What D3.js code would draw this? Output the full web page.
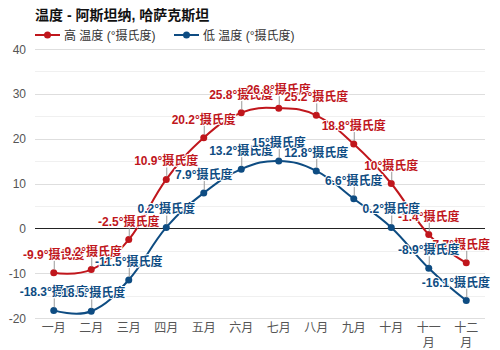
<!DOCTYPE html>
<html><head><meta charset="utf-8">
<script src="https://cdn.jsdelivr.net/npm/d3@7"></script>
<style>
body{margin:0;background:#fff;}
svg{font-family:"Liberation Sans",Arial,"Noto Sans CJK SC",sans-serif;}
</style></head>
<body><svg id="c" width="500" height="350"></svg>
<script>
const title = "温度 - 阿斯坦纳, 哈萨克斯坦";
const months = ["一月","二月","三月","四月","五月","六月","七月","八月","九月","十月","十一月","十二月"];
const highTemps = [-9.9,-9.2,-2.5,10.9,20.2,25.8,26.8,25.2,18.8,10,-1.4,-7.7];
const lowTemps = [-18.3,-18.5,-11.5,0.2,7.9,13.2,15,12.8,6.6,0.2,-8.9,-16.1];
const seriesNames = ["高 温度 (°摄氏度)","低 温度 (°摄氏度)"];
const yTicks = [-20,-10,0,10,20,30,40];
const unit = "°摄氏度";

const colors = ["#c0161c","#0e4c82"];
const svg = d3.select("#c");
const m = {left:35,right:485,top:49,bottom:318};

const x = d3.scaleBand().domain(months).range([m.left,m.right]);
const y = d3.scaleLinear().domain([-20,40]).range([m.bottom,m.top]);
const cx = d => x(d) + x.bandwidth()/2;

// title
svg.append("text").attr("x",35).attr("y",20).attr("font-size",14).attr("font-weight","bold")
  .attr("fill","#111").text(title);

// legend
const lg = [{x:35},{x:174}];
seriesNames.forEach((n,i)=>{
  const g = svg.append("g");
  g.append("line").attr("x1",lg[i].x).attr("x2",lg[i].x+25).attr("y1",35).attr("y2",35)
    .attr("stroke",colors[i]).attr("stroke-width",2);
  g.append("circle").attr("cx",lg[i].x+12.5).attr("cy",35).attr("r",3.5).attr("fill",colors[i]);
  g.append("text").attr("x",lg[i].x+29).attr("y",39.5).attr("font-size",12).attr("fill","#333").text(n);
});

// grid minor
const minor = d3.range(-15,40,10);
svg.append("g").selectAll("line").data(minor).join("line")
  .attr("x1",m.left).attr("x2",m.right).attr("y1",d=>Math.round(y(d))+0.5).attr("y2",d=>Math.round(y(d))+0.5)
  .attr("stroke","#f0f0f0");
svg.append("g").selectAll("line").data(yTicks).join("line")
  .attr("x1",m.left).attr("x2",m.right).attr("y1",d=>Math.round(y(d))+0.5).attr("y2",d=>Math.round(y(d))+0.5)
  .attr("stroke",d=>d===0?"#222":"#dedede");

// y labels
svg.append("g").selectAll("text").data(yTicks).join("text")
  .attr("x",26).attr("y",d=>y(d)+4.5).attr("text-anchor","end").attr("font-size",12).attr("fill","#555")
  .text(d=>d);

// x labels
const xl = svg.append("g").selectAll("text").data(months).join("text")
  .attr("x",d=>cx(d)).attr("y",332).attr("text-anchor","middle").attr("font-size",12).attr("fill","#555");
xl.each(function(d){
  const t = d3.select(this);
  if(d.length>2){
    t.append("tspan").attr("x",cx(d)).text(d.slice(0,2));
    t.append("tspan").attr("x",cx(d)).attr("dy",15).text(d.slice(2));
  } else t.text(d);
});

const line = d3.line().x(d=>cx(d.m)).y(d=>y(d.v)).curve(d3.curveCardinal.tension(-0.2));
const series = [highTemps,lowTemps].map(arr=>arr.map((v,i)=>({m:months[i],v})));

series.forEach((s,i)=>{
  svg.append("path").attr("d",line(s)).attr("fill","none").attr("stroke",colors[i]).attr("stroke-width",2);
  svg.append("g").selectAll("circle").data(s).join("circle")
    .attr("cx",d=>cx(d.m)).attr("cy",d=>y(d.v)).attr("r",3.5).attr("fill",colors[i]);
});

series.forEach((s,i)=>{
  const g = svg.append("g");
  s.forEach(d=>{
    const px = cx(d.m), py = y(d.v);
    g.append("line").attr("x1",px+0.5).attr("x2",px+0.5).attr("y1",py-12).attr("y2",py-3)
      .attr("stroke","#999").attr("stroke-width",1);
    const t = g.append("text").attr("x",px).attr("y",py-14).attr("text-anchor","middle")
      .attr("font-size",12).attr("font-weight","bold").attr("fill",colors[i])
      .attr("stroke","#fff").attr("stroke-width",2).attr("paint-order","stroke").attr("stroke-linejoin","round")
      .text(d.v+unit);
    const w = t.node().getComputedTextLength();
    if(px + w/2 > 490) t.attr("x", 490 - w/2);
  });
});
</script></body></html>
